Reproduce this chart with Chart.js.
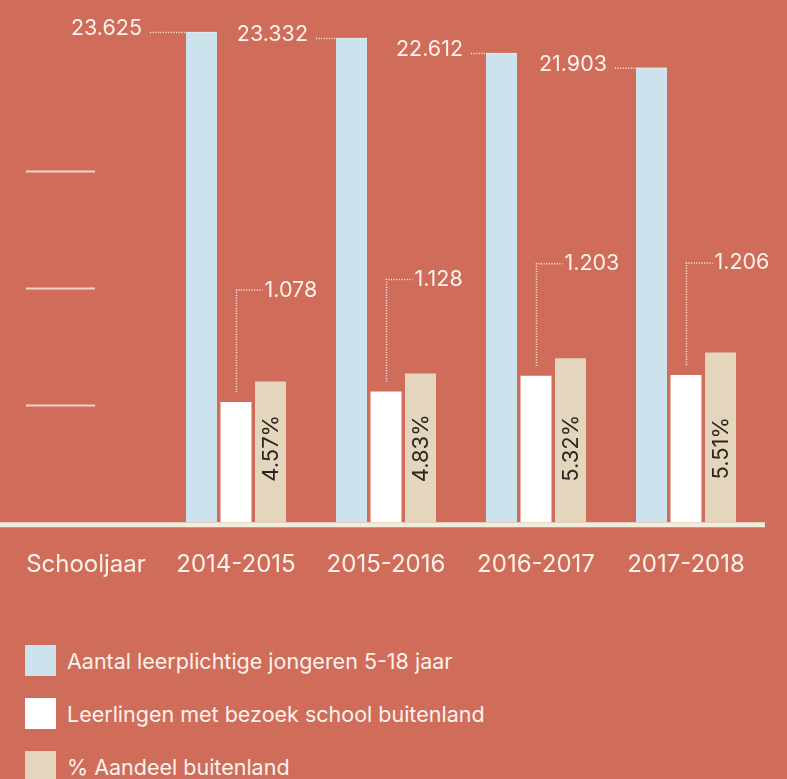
<!DOCTYPE html>
<html>
<head>
<meta charset="utf-8">
<script src="https://cdn.jsdelivr.net/npm/chart.js@4.4.0/dist/chart.umd.min.js"></script>
<style>
  html, body { margin: 0; padding: 0; background: #D06C5A; width: 787px; height: 779px; overflow: hidden; }
  body { font-family: Inter, "Noto Sans", sans-serif; }
  #wrap { position: absolute; left: 0; top: 0; width: 787px; height: 622px; }
  #legend { position: absolute; left: 25px; top: 645px; }
  .item { display: flex; align-items: center; height: 31px; margin-bottom: 22px; color: #fdf3ec; font-size: 21.5px; }
  .box { width: 31px; height: 31px; margin-right: 11px; flex: none; }
</style>
</head>
<body>
<div id="wrap"><canvas id="myChart"></canvas></div>
<div id="legend"></div>
<script>
var labels = ['Schooljaar', '2014-2015', '2015-2016', '2016-2017', '2017-2018'];
var seriesNames = ['Aantal leerplichtige jongeren 5-18 jaar', 'Leerlingen met bezoek school buitenland', '% Aandeel buitenland'];
var leerplichtigen = [null, 23625, 23332, 22612, 21903];
var buitenland = [null, 1078, 1128, 1203, 1206];
var aandeel = [null, 4.57, 4.83, 5.32, 5.51];
var tickMarks = [1, 2, 3];

var colors = ['#CCE3EE', '#FFFFFF', '#E4D6BC'];
var textColor = '#fdf3ec';
var fontName = 'Inter, "Noto Sans", sans-serif';
// space between a blue bar and its value label
var labelGap = [0, 44, 28, 23, 29];

thousands = (v) => String(v).replace(/\B(?=(\d{3})+(?!\d))/g, '.');

var decorations = {
    id: 'decorations',
    beforeDatasetsDraw: (chart) => {
        var ctx = chart.ctx;
        var area = chart.chartArea;
        var yt = chart.scales.yt;
        ctx.save();
        ctx.strokeStyle = 'rgba(255,238,226,0.8)';
        ctx.lineWidth = 2;
        tickMarks.forEach((t) => {
            var y = Math.round(yt.getPixelForValue(t)) + 0.5;
            ctx.beginPath();
            ctx.moveTo(area.left + 15, y);
            ctx.lineTo(area.left + 84, y);
            ctx.stroke();
        });
        ctx.restore();
    },
    afterDatasetsDraw: (chart) => {
        var ctx = chart.ctx;
        var area = chart.chartArea;
        ctx.save();

        // baseline
        ctx.strokeStyle = '#F1EDDD';
        ctx.lineWidth = 5;
        ctx.beginPath();
        ctx.moveTo(0, area.bottom + 2.5);
        ctx.lineTo(area.right + 4, area.bottom + 2.5);
        ctx.stroke();

        ctx.font = '21.5px ' + fontName;
        ctx.fillStyle = textColor;
        ctx.strokeStyle = textColor;
        ctx.lineWidth = 1.5;
        ctx.setLineDash([1, 1.6]);

        // blue bars: label to the left with dotted leader
        chart.getDatasetMeta(0).data.forEach((el, i) => {
            if (leerplichtigen[i] == null) return;
            var left = el.x - el.width / 2;
            var right = el.x + el.width / 2;
            var tx = left - labelGap[i];
            ctx.textAlign = 'right';
            ctx.textBaseline = 'middle';
            ctx.fillText(thousands(leerplichtigen[i]), tx, el.y - 3);
            ctx.beginPath();
            ctx.moveTo(tx + 8, el.y + 0.5);
            ctx.lineTo(right, el.y + 0.5);
            ctx.stroke();
        });

        // white bars: elbow leader up and to the right
        chart.getDatasetMeta(1).data.forEach((el, i) => {
            if (buitenland[i] == null) return;
            var x = Math.round(el.x) + 0.5;
            var top = el.y - 112;
            ctx.beginPath();
            ctx.moveTo(x, el.y - 10);
            ctx.lineTo(x, top);
            ctx.lineTo(x + 26, top);
            ctx.stroke();
            ctx.textAlign = 'left';
            ctx.textBaseline = 'middle';
            ctx.fillText(thousands(buitenland[i]), x + 28, top);
        });

        // beige bars: rotated percentage inside
        var yb = chart.scales.yb;
        ctx.fillStyle = '#2b2622';
        ctx.font = '22px ' + fontName;
        chart.getDatasetMeta(2).data.forEach((el, i) => {
            if (aandeel[i] == null) return;
            ctx.save();
            ctx.translate(el.x, yb.getPixelForValue(2.4));
            ctx.rotate(-Math.PI / 2);
            ctx.textAlign = 'center';
            ctx.textBaseline = 'middle';
            ctx.fillText(aandeel[i].toFixed(2) + '%', 0, 1);
            ctx.restore();
        });
        ctx.restore();
    }
};

var chartPosition = document.getElementById('myChart').getContext('2d');

var myChart = new Chart(chartPosition, {
    type: 'bar',
    data: {
        labels: labels,
        datasets: [{
            label: seriesNames[0],
            data: leerplichtigen,
            backgroundColor: colors[0],
            yAxisID: 'y'
        }, {
            label: seriesNames[1],
            data: buitenland,
            backgroundColor: colors[1],
            yAxisID: 'yw'
        }, {
            label: seriesNames[2],
            data: aandeel,
            backgroundColor: colors[2],
            yAxisID: 'yb'
        }]
    },
    options: {
        responsive: true,
        maintainAspectRatio: false,
        animation: false,
        barPercentage: 0.8986,
        categoryPercentage: 0.69,
        layout: { padding: { top: 20, left: 11, right: 26, bottom: 23 } },
        plugins: {
            legend: { display: false },
            tooltip: { enabled: false }
        },
        scales: {
            x: {
                grid: { display: false },
                border: { display: false },
                ticks: { color: textColor, font: { family: fontName, size: 24 }, padding: 20 }
            },
            y: { display: false, min: 0, max: 24200 },
            yw: { display: false, min: 510, max: 2885 },
            yb: { display: false, min: 0, max: 16.3 },
            yt: { display: false, min: 0, max: 4.29 }
        }
    },
    plugins: [decorations]
});

// legend built from the datasets
var legend = document.getElementById('legend');
myChart.data.datasets.forEach((ds) => {
    var item = document.createElement('div');
    item.className = 'item';
    var box = document.createElement('span');
    box.className = 'box';
    box.style.background = ds.backgroundColor;
    var txt = document.createElement('span');
    txt.textContent = ds.label;
    item.appendChild(box);
    item.appendChild(txt);
    legend.appendChild(item);
});
</script>
</body>
</html>
